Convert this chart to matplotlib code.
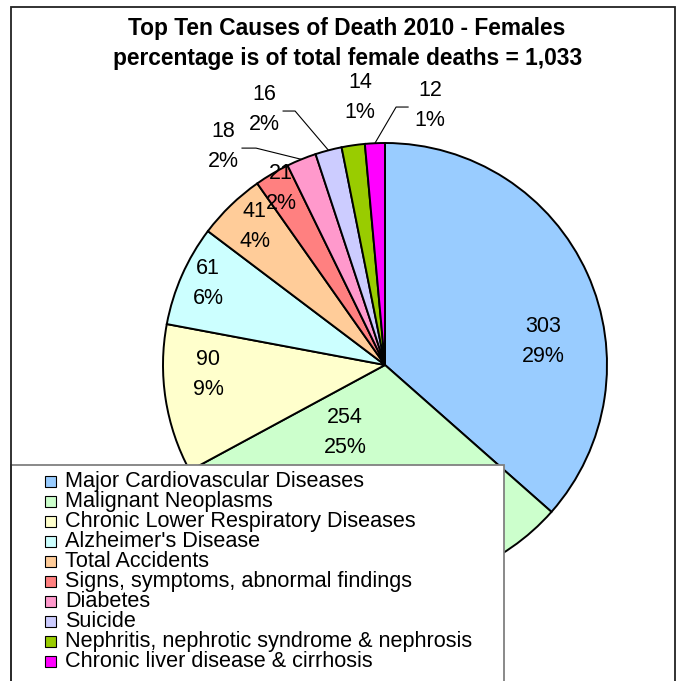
import numpy as np
import matplotlib
matplotlib.use("Agg")
import matplotlib.pyplot as plt
from matplotlib.patches import Rectangle

plt.rcParams['font.family'] = ['Liberation Sans', 'DejaVu Sans']

# data
causes = ['Major Cardiovascular Diseases', 'Malignant Neoplasms',
          'Chronic Lower Respiratory Diseases', "Alzheimer's Disease",
          'Total Accidents', 'Signs, symptoms, abnormal findings',
          'Diabetes', 'Suicide',
          'Nephritis, nephrotic syndrome & nephrosis',
          'Chronic liver disease & cirrhosis']
deaths = [303, 254, 90, 61, 41, 21, 18, 16, 14, 12]
total_female_deaths = 1033

colors = ['#99CCFF', '#CCFFCC', '#FFFFCC', '#CCFFFF', '#FFCC99',
          '#FF8080', '#FF99CC', '#CCCCFF', '#99CC00', '#FF00FF']

# label block centres, in pie-radius units
label_pos = [(0.712, 0.104), (-0.180, -0.302), (-0.797, -0.041),
             (-0.797, 0.365), (-0.586, 0.622), (-0.468, 0.797),
             (-0.730, 0.982), (-0.545, 1.149), (-0.113, 1.203),
             (0.203, 1.171)]
# elbow of leader lines (start, bend) for the small outer labels
leaders = {6: ((-0.644, 0.977), (-0.581, 0.977)),
           7: ((-0.459, 1.144), (-0.405, 1.144)),
           9: ((0.104, 1.162), (0.050, 1.162))}

W, H = 676, 681
CX, CY, R = 385, 365, 222   # pie centre and radius in pixels

fig = plt.figure(figsize=(W / 100, H / 100), dpi=100)
fig.patch.set_facecolor('white')


def fx(x):
    return x / W


def fy(y):
    return 1 - y / H


ax = fig.add_axes([0, 0, 1, 1])
wedges, _ = ax.pie(deaths, colors=colors, startangle=90, counterclock=False,
                   wedgeprops=dict(edgecolor='black', linewidth=1.4))
ax.set_xlim(-CX / R, (W - CX) / R)
ax.set_ylim((CY - H) / R, CY / R)
ax.set_aspect('auto')
ax.axis('off')

step = 15 / R
for i, (w, n) in enumerate(zip(wedges, deaths)):
    x, y = label_pos[i]
    ax.text(x, y + step, str(n), ha='center', va='center', fontsize=15.5)
    ax.text(x, y - step, '{:.0f}%'.format(100 * n / total_female_deaths),
            ha='center', va='center', fontsize=15.5)
    if i in leaders:
        mid = np.deg2rad((w.theta1 + w.theta2) / 2)
        a, b = leaders[i]
        ax.plot([a[0], b[0], np.cos(mid)], [a[1], b[1], np.sin(mid)],
                color='black', lw=0.8)

fig.text(fx(347), fy(29), 'Top Ten Causes of Death 2010 - Females',
         ha='center', va='center', fontsize=16.4, fontweight='bold')
fig.text(fx(348), fy(59), 'percentage is of total female deaths = 1,033',
         ha='center', va='center', fontsize=16.4, fontweight='bold')

# outer chart border
fig.patches.append(Rectangle((fx(11), fy(720)), fx(675) - fx(11), fy(7) - fy(720),
                             transform=fig.transFigure, fill=False,
                             edgecolor='#222222', lw=1.3, zorder=5))

# legend box
fig.patches.append(Rectangle((fx(11), fy(720)), fx(504) - fx(11), fy(465) - fy(720),
                             transform=fig.transFigure, facecolor='white',
                             edgecolor='#808080', lw=1.3, zorder=4))
for i, (name, c) in enumerate(zip(causes, colors)):
    yc = 481 + 20.1 * i
    fig.patches.append(Rectangle((fx(45), fy(yc + 5.5)), 11 / W, 11 / H,
                                 transform=fig.transFigure, facecolor=c,
                                 edgecolor='black', lw=0.8, zorder=6))
    fig.text(fx(65), fy(yc), name, ha='left', va='center', fontsize=15.6,
             zorder=7)

fig.savefig('out.png', dpi=100)
